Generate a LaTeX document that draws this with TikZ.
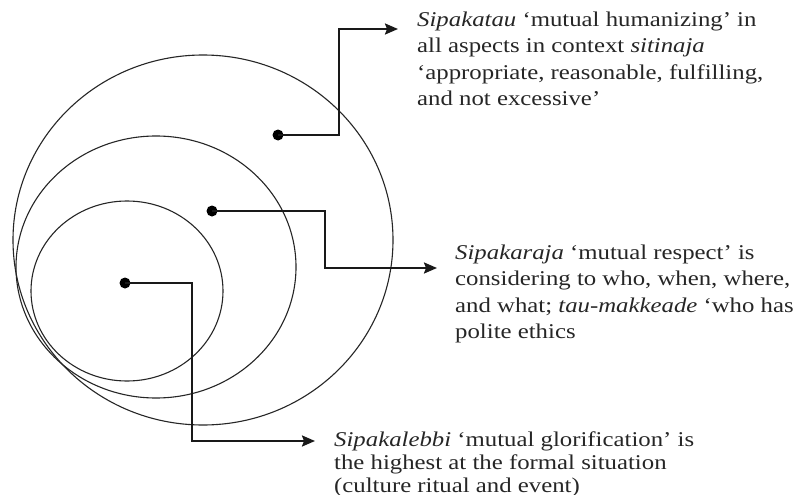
\documentclass[tikz,border=0pt]{standalone}
\usepackage{fontspec}
\setmainfont{Liberation Serif}[FakeStretch=1.18]
\usetikzlibrary{arrows.meta}
\tikzset{
  ring/.style={draw=black!85, line width=1.1pt},
  dot/.style={circle, fill=black, inner sep=0pt, minimum size=11pt},
  conn/.style={draw=black!90, line width=2.2pt, -{Stealth[length=13pt,width=11pt,inset=2pt]}},
  label/.style={anchor=base west, align=left, inner sep=0pt, text=black!85,
    font=\fontsize{21}{26.5}\selectfont},
  labelB/.style={label, font=\fontsize{21}{23}\selectfont}
}
\begin{document}
\begin{tikzpicture}[x=1pt,y=-1pt]
\useasboundingbox (0,0) rectangle (798,495);
\fill[white] (0,0) rectangle (798,495);
% nested circles
\draw[ring] (203,240) ellipse [x radius=190, y radius=185];
\draw[ring] (156,267) ellipse [x radius=140, y radius=131];
\draw[ring] (127,291) ellipse [x radius=96, y radius=90];
% dots
\node[dot] (d1) at (278,135) {};
\node[dot] (d2) at (212,211) {};
\node[dot] (d3) at (125,283) {};
% arrow targets
\coordinate (t1) at (398,29);
\coordinate (t2) at (437,268);
\coordinate (t3) at (315,441);
% connectors
\draw[conn] (d1.center) -- ++(61,0) |- (t1);
\draw[conn] (d2.center) -- ++(113,0) |- (t2);
\draw[conn] (d3.center) -- ++(67,0) |- (t3);
% texts (anchor = baseline of the last line)
\node[label] (l1) at (417,105.5) {\textit{Sipakatau} ‘mutual humanizing’ in\\
all aspects in context \textit{sitinaja}\\
‘appropriate, reasonable, fulfilling,\\
and not excessive’};
\node[label] (l2) at (455,338.5) {\textit{Sipakaraja} ‘mutual respect’ is\\
considering to who, when, where,\\
and what; \textit{tau-makkeade} ‘who has\\
polite ethics};
\node[labelB] (l3) at (334,492) {\textit{Sipakalebbi} ‘mutual glorification’ is\\
the highest at the formal situation\\
(culture ritual and event)};
\end{tikzpicture}
\end{document}
